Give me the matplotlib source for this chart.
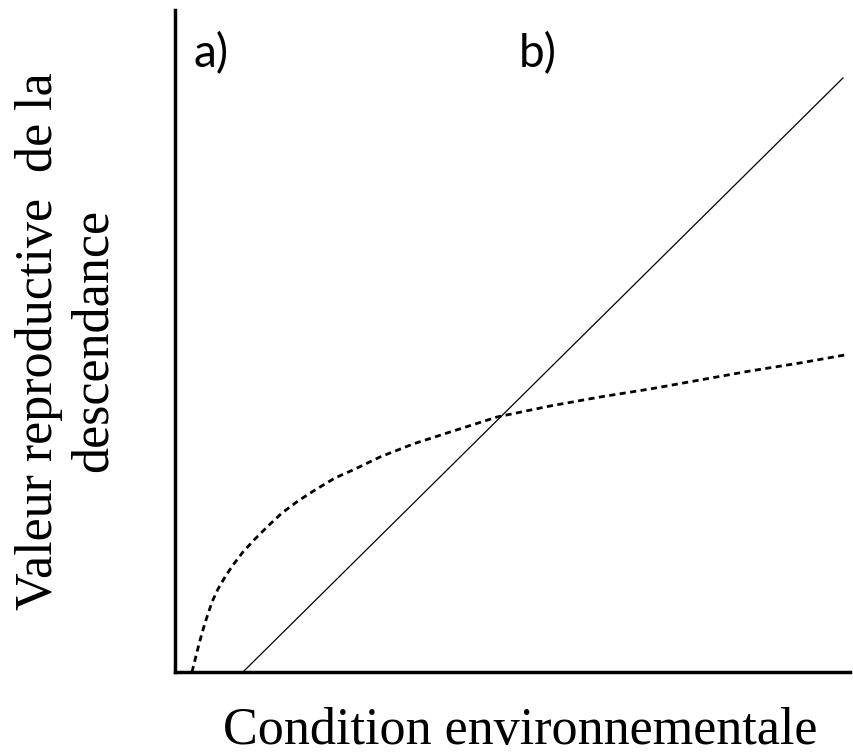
import matplotlib.pyplot as plt

# Condition environnementale (axe x) et valeur reproductive (axe y), unités relatives 0-100
lin_x = [10.07, 98.96]
lin_y = [0.0, 89.73]

curve_x = [2.52, 2.96, 3.41, 4.00, 4.59, 5.48, 6.37, 7.41, 8.59, 10.07,
           11.85, 13.78, 15.85, 18.22, 20.74, 23.70, 26.67, 30.37, 35.26,
           40.30, 47.70, 55.56, 62.96, 70.37, 77.78, 85.19, 92.59, 99.26]
curve_y = [0.0, 1.81, 3.63, 5.89, 7.85, 10.57, 12.54, 14.35, 16.16, 18.13,
           20.09, 22.05, 24.02, 25.83, 27.49, 29.31, 30.66, 32.48, 34.44,
           36.10, 38.52, 40.18, 41.54, 42.75, 44.11, 45.47, 46.68, 47.89]

panel_labels = ['a)', 'b)']
panel_x = [2.7, 51.0]

fig = plt.figure(figsize=(8.54, 7.56), dpi=100)
ax = fig.add_axes([175 / 854, 1 - 672 / 756, 675 / 854, 662 / 756])

ax.plot(lin_x, lin_y, color='black', linewidth=0.9)
ax.plot(curve_x, curve_y, color='black', linewidth=2.0,
        linestyle=(0, (2.2, 1.6)))

for lab, px in zip(panel_labels, panel_x):
    ax.text(px, 91.4, lab, fontsize=33, family='Lato', ha='left', va='baseline')

ax.set_xlim(0, 100)
ax.set_ylim(0, 100)
ax.set_xticks([])
ax.set_yticks([])
for side in ['top', 'right']:
    ax.spines[side].set_visible(False)
for side in ['left', 'bottom']:
    ax.spines[side].set_linewidth(2.5)

serif = 'Liberation Serif'
fig.text(520 / 854, 1 - 744 / 756, 'Condition environnementale',
         family=serif, fontsize=37.5, ha='center', va='baseline')

# titre de l'axe y sur deux lignes, chacune centrée sur l'axe
ylab_lines = ['Valeur reproductive  de la', 'descendance']
ylab_base = [52, 107]
for txt, bx in zip(ylab_lines, ylab_base):
    fig.text(bx / 854, 1 - 341 / 756, txt, family=serif, fontsize=37.5,
             rotation=90, rotation_mode='anchor', ha='center', va='baseline')

fig.savefig('out.png', dpi=100)
